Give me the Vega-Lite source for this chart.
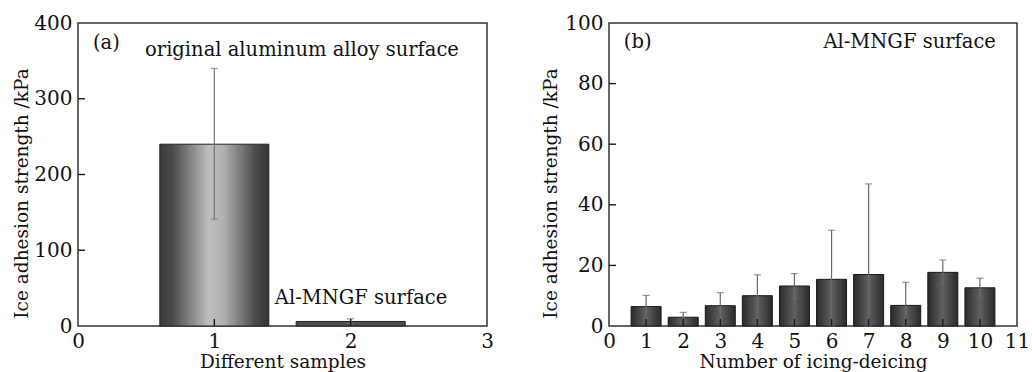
{
  "$schema": "https://vega.github.io/schema/vega-lite/v6.json",
  "padding": {"left": 12, "top": 12, "right": 5, "bottom": 0},
  "spacing": 46,
  "datasets": {
    "a": [
      {"s": 1, "v": 240, "lo": 141, "hi": 340},
      {"s": 2, "v": 6, "lo": 3, "hi": 9.5}
    ],
    "b": [
      {"n": 1, "v": 6.4, "lo": 2.6, "hi": 10.1},
      {"n": 2, "v": 2.9, "lo": 1.2, "hi": 4.5},
      {"n": 3, "v": 6.7, "lo": 2.3, "hi": 11.0},
      {"n": 4, "v": 10.0, "lo": 2.6, "hi": 16.9},
      {"n": 5, "v": 13.2, "lo": 9.0, "hi": 17.3},
      {"n": 6, "v": 15.4, "lo": 0, "hi": 31.6},
      {"n": 7, "v": 17.0, "lo": 0, "hi": 46.9},
      {"n": 8, "v": 6.8, "lo": 0, "hi": 14.4},
      {"n": 9, "v": 17.7, "lo": 13.8, "hi": 21.8},
      {"n": 10, "v": 12.6, "lo": 9.3, "hi": 15.8}
    ],
    "ta": [{"x": 0.11, "y": 374, "t": "(a)"}],
    "tac": [
      {"x": 1.643, "y": 364, "t": "original aluminum alloy surface"},
      {"x": 2.076, "y": 37, "t": "Al-MNGF surface"}
    ],
    "tb": [{"x": 0.40, "y": 93.7, "t": "(b)"}],
    "tbr": [{"x": 10.43, "y": 93.7, "t": "Al-MNGF surface"}],
    "axa": [{"v": 1}, {"v": 2}],
    "aya": [{"v": 100}, {"v": 200}, {"v": 300}],
    "axb": [{"v": 1}, {"v": 2}, {"v": 3}, {"v": 4}, {"v": 5}, {"v": 6}, {"v": 7}, {"v": 8}, {"v": 9}, {"v": 10}],
    "ayb": [{"v": 20}, {"v": 40}, {"v": 60}, {"v": 80}]
  },
  "config": {
    "font": "DejaVu Serif",
    "view": {"stroke": "#333333", "strokeWidth": 1.5},
    "axis": {
      "grid": false,
      "domain": false,
      "ticks": false,
      "labelFont": "DejaVu Serif",
      "labelFontSize": 20,
      "labelColor": "#111111",
      "labelOverlap": false,
      "labelFlush": false,
      "format": "d",
      "titleFont": "DejaVu Serif",
      "titleFontSize": 18.5,
      "titleFontWeight": "normal",
      "titleColor": "#111111"
    },
    "text": {"fontSize": 19.5, "baseline": "middle", "color": "#111111", "font": "DejaVu Serif"}
  },
  "hconcat": [
    {
      "width": 409,
      "height": 303,
      "resolve": {"axis": {"x": "independent", "y": "independent"}},
      "layer": [
        {
          "data": {"name": "a"},
          "transform": [{"filter": "datum.s == 1"}],
          "mark": {
            "type": "bar",
            "width": 109,
            "stroke": "#222222",
            "strokeWidth": 1,
            "color": {
              "gradient": "linear", "x1": 0, "x2": 1, "y1": 0, "y2": 0,
              "stops": [
                {"offset": 0, "color": "#3a3a3a"},
                {"offset": 0.12, "color": "#4c4c4c"},
                {"offset": 0.45, "color": "#bdbec0"},
                {"offset": 0.58, "color": "#b0b1b3"},
                {"offset": 0.88, "color": "#4a4a4a"},
                {"offset": 1, "color": "#333333"}
              ]
            }
          },
          "encoding": {
            "x": {"field": "s", "type": "quantitative", "scale": {"domain": [0, 3], "padding": 0, "nice": false, "zero": false},
                  "axis": {"orient": "bottom", "values": [0, 1, 2, 3], "labelOverlap": false, "title": "Different samples", "labelPadding": 5, "titlePadding": 1}},
            "y": {"field": "v", "type": "quantitative", "scale": {"domain": [0, 400], "nice": false},
                  "axis": {"orient": "left", "values": [0, 100, 200, 300, 400], "labelOverlap": false, "title": "Ice adhesion strength /kPa", "labelPadding": 6, "titlePadding": 2, "titleY": 170}}
          }
        },
        {
          "data": {"name": "a"},
          "transform": [{"filter": "datum.s == 2"}],
          "mark": {"type": "bar", "width": 109, "stroke": "#222222", "strokeWidth": 1, "color": "#4e4e4e"},
          "encoding": {
            "x": {"field": "s", "type": "quantitative", "axis": null},
            "y": {"field": "v", "type": "quantitative", "axis": null}
          }
        },
        {
          "data": {"name": "a"},
          "mark": {"type": "rule", "color": "#777777", "strokeWidth": 1.2},
          "encoding": {
            "x": {"field": "s", "type": "quantitative", "axis": null},
            "y": {"field": "lo", "type": "quantitative", "axis": null},
            "y2": {"field": "hi"}
          }
        },
        {
          "data": {"name": "a"},
          "mark": {"type": "tick", "orient": "horizontal", "size": 7, "thickness": 1.2, "color": "#777777"},
          "encoding": {
            "x": {"field": "s", "type": "quantitative", "axis": null},
            "y": {"field": "hi", "type": "quantitative", "axis": null}
          }
        },
        {
          "data": {"name": "a"},
          "mark": {"type": "tick", "orient": "horizontal", "size": 7, "thickness": 1.2, "color": "#777777"},
          "encoding": {
            "x": {"field": "s", "type": "quantitative", "axis": null},
            "y": {"field": "lo", "type": "quantitative", "axis": null}
          }
        },
        {
          "data": {"name": "axa"},
          "mark": {"type": "tick", "orient": "vertical", "size": 14, "thickness": 1.4, "color": "#1a1a1a", "opacity": 1, "clip": true},
          "encoding": {
            "x": {"field": "v", "type": "quantitative", "axis": null},
            "y": {"datum": 0, "type": "quantitative", "axis": null}
          }
        },
        {
          "data": {"name": "aya"},
          "mark": {"type": "tick", "orient": "horizontal", "size": 14, "thickness": 1.4, "color": "#1a1a1a", "opacity": 1, "clip": true},
          "encoding": {
            "x": {"datum": 0, "type": "quantitative", "axis": null},
            "y": {"field": "v", "type": "quantitative", "axis": null}
          }
        },
        {
          "data": {"name": "ta"},
          "mark": {"type": "text", "align": "left"},
          "encoding": {
            "x": {"field": "x", "type": "quantitative", "axis": null},
            "y": {"field": "y", "type": "quantitative", "axis": null},
            "text": {"field": "t"}
          }
        },
        {
          "data": {"name": "tac"},
          "mark": {"type": "text", "align": "center"},
          "encoding": {
            "x": {"field": "x", "type": "quantitative", "axis": null},
            "y": {"field": "y", "type": "quantitative", "axis": null},
            "text": {"field": "t"}
          }
        }
      ]
    },
    {
      "width": 408,
      "height": 303,
      "resolve": {"axis": {"x": "independent", "y": "independent"}},
      "layer": [
        {
          "data": {"name": "b"},
          "mark": {
            "type": "bar",
            "width": 30,
            "stroke": "#1a1a1a",
            "strokeWidth": 1,
            "color": {
              "gradient": "linear", "x1": 0, "x2": 1, "y1": 0, "y2": 0,
              "stops": [
                {"offset": 0, "color": "#2a2a2a"},
                {"offset": 0.5, "color": "#606060"},
                {"offset": 1, "color": "#2a2a2a"}
              ]
            }
          },
          "encoding": {
            "x": {"field": "n", "type": "quantitative", "scale": {"domain": [0, 11], "padding": 0, "nice": false, "zero": false},
                  "axis": {"orient": "bottom", "values": [0, 1, 2, 3, 4, 5, 6, 7, 8, 9, 10, 11], "labelOverlap": false, "title": "Number of icing-deicing", "labelPadding": 5, "titlePadding": 1}},
            "y": {"field": "v", "type": "quantitative", "scale": {"domain": [0, 100], "nice": false},
                  "axis": {"orient": "left", "values": [0, 20, 40, 60, 80, 100], "labelOverlap": false, "title": "Ice adhesion strength /kPa", "labelPadding": 6, "titlePadding": 4, "titleY": 170}}
          }
        },
        {
          "data": {"name": "b"},
          "mark": {"type": "rule", "color": "#6a6a6a", "strokeWidth": 1.2},
          "encoding": {
            "x": {"field": "n", "type": "quantitative", "axis": null},
            "y": {"field": "lo", "type": "quantitative", "axis": null},
            "y2": {"field": "hi"}
          }
        },
        {
          "data": {"name": "b"},
          "mark": {"type": "tick", "orient": "horizontal", "size": 7, "thickness": 1.2, "color": "#6a6a6a"},
          "encoding": {
            "x": {"field": "n", "type": "quantitative", "axis": null},
            "y": {"field": "hi", "type": "quantitative", "axis": null}
          }
        },
        {
          "data": {"name": "b"},
          "mark": {"type": "tick", "orient": "horizontal", "size": 7, "thickness": 1.2, "color": "#6a6a6a"},
          "encoding": {
            "x": {"field": "n", "type": "quantitative", "axis": null},
            "y": {"field": "lo", "type": "quantitative", "axis": null}
          }
        },
        {
          "data": {"name": "axb"},
          "mark": {"type": "tick", "orient": "vertical", "size": 14, "thickness": 1.4, "color": "#1a1a1a", "opacity": 1, "clip": true},
          "encoding": {
            "x": {"field": "v", "type": "quantitative", "axis": null},
            "y": {"datum": 0, "type": "quantitative", "axis": null}
          }
        },
        {
          "data": {"name": "ayb"},
          "mark": {"type": "tick", "orient": "horizontal", "size": 14, "thickness": 1.4, "color": "#1a1a1a", "opacity": 1, "clip": true},
          "encoding": {
            "x": {"datum": 0, "type": "quantitative", "axis": null},
            "y": {"field": "v", "type": "quantitative", "axis": null}
          }
        },
        {
          "data": {"name": "tb"},
          "mark": {"type": "text", "align": "left"},
          "encoding": {
            "x": {"field": "x", "type": "quantitative", "axis": null},
            "y": {"field": "y", "type": "quantitative", "axis": null},
            "text": {"field": "t"}
          }
        },
        {
          "data": {"name": "tbr"},
          "mark": {"type": "text", "align": "right"},
          "encoding": {
            "x": {"field": "x", "type": "quantitative", "axis": null},
            "y": {"field": "y", "type": "quantitative", "axis": null},
            "text": {"field": "t"}
          }
        }
      ]
    }
  ]
}
